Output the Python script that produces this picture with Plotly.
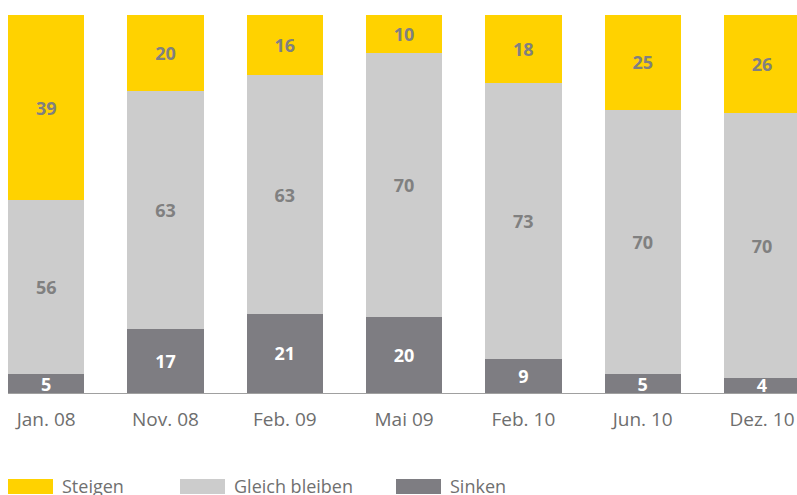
import plotly.graph_objects as go

categories = ["Jan. 08", "Nov. 08", "Feb. 09", "Mai 09", "Feb. 10", "Jun. 10", "Dez. 10"]
# bar heights as drawn in the reference (its first bar is drawn at 5/46/49
# although it is labelled 5/56/39)
sinken = [5, 17, 21, 20, 9, 5, 4]
gleich = [46, 63, 63, 70, 73, 70, 70]
steigen = [49, 20, 16, 10, 18, 25, 26]
# printed value labels
sinken_labels = ["5", "17", "21", "20", "9", "5", "4"]
gleich_labels = ["56", "63", "63", "70", "73", "70", "70"]
steigen_labels = ["39", "20", "16", "10", "18", "25", "26"]

colors = {"Steigen": "#FFD200", "Gleich bleiben": "#CCCCCC", "Sinken": "#7E7D82"}
text_colors = {"Steigen": "#808080", "Gleich bleiben": "#808080", "Sinken": "#FFFFFF"}

FONT = "Open Sans"
W, H = 797, 495
L, R, T, B = 8, 0, 15, 102

fig = go.Figure()
for name, vals, labels in [("Sinken", sinken, sinken_labels),
                           ("Gleich bleiben", gleich, gleich_labels),
                           ("Steigen", steigen, steigen_labels)]:
    fig.add_trace(go.Bar(
        x=list(range(len(categories))), y=vals, name=name,
        marker=dict(color=colors[name], line=dict(width=0)),
        text=labels,
        textposition="inside", insidetextanchor="middle",
        constraintext="none", textangle=0,
        textfont=dict(family=FONT, size=18, color=text_colors[name], weight="bold"),
        width=0.64, showlegend=False, cliponaxis=False,
        hoverinfo="skip",
    ))

# custom legend (wide swatches)
pw, ph = W - L - R, H - T - B
def px_to_paper(px, py):
    return (px - L) / pw, (H - B - py) / ph

legend_items = [("Steigen", 8, 60), ("Gleich bleiben", 180, 232), ("Sinken", 396, 448)]
shapes, annotations = [], []
for name, sx, tx in legend_items:
    x0, y0 = px_to_paper(sx, 494)
    x1, y1 = px_to_paper(sx + 45, 479)
    shapes.append(dict(type="rect", xref="paper", yref="paper", x0=x0, x1=x1, y0=y0, y1=y1,
                       fillcolor=colors[name], line=dict(width=0), layer="above"))
    ax, ay = px_to_paper(tx, 486)
    annotations.append(dict(xref="paper", yref="paper", x=ax, y=ay, text=name, showarrow=False,
                            xanchor="left", yanchor="middle",
                            font=dict(family=FONT, size=18, color="#707070")))

fig.update_layout(
    template="none",
    width=W, height=H,
    margin=dict(l=L, r=R, t=T, b=B, pad=0, autoexpand=False),
    barmode="stack",
    plot_bgcolor="white", paper_bgcolor="white",
    showlegend=False,
    shapes=shapes, annotations=annotations,
    font=dict(family=FONT),
)
fig.update_xaxes(
    automargin=False,
    tickmode="array", tickvals=list(range(len(categories))), ticktext=categories,
    range=[-0.32, -0.32 + pw / 119.3],
    showgrid=False, zeroline=False,
    showline=True, linecolor="#A0A0A0", linewidth=1,
    ticks="", ticklabelstandoff=9,
    tickfont=dict(family=FONT, size=19, color="#6E6E6E"),
)
fig.update_yaxes(automargin=False, range=[0, 100], visible=False, showgrid=False, zeroline=False)

fig.write_html(
    "out.html",
    config={"displayModeBar": False},
    post_script="document.body.style.margin='0';document.body.style.overflow='hidden';",
)
